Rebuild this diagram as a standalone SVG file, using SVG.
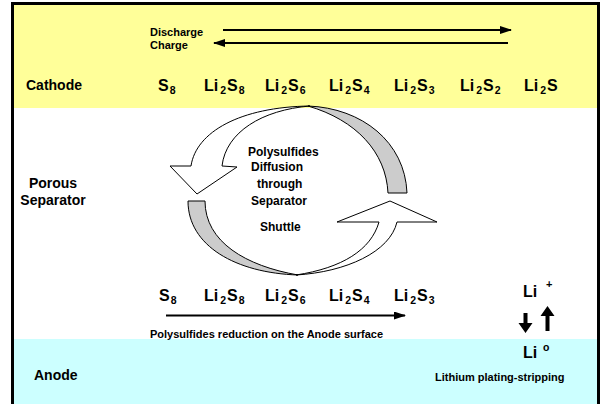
<svg xmlns="http://www.w3.org/2000/svg" width="600" height="404" viewBox="0 0 600 404">
<style>
text{font-family:"Liberation Sans",Arial,sans-serif;font-weight:bold;fill:#000}
.lbl{font-size:14px}
.sm{font-size:11px}
.mid{font-size:12px}
.f{font-size:16px}
.sub{font-size:10.5px}
.ln{stroke:#000;stroke-width:2;fill:none}
.gray{fill:#cccccc;stroke:#000;stroke-width:1}
.wht{fill:#fff;stroke:#000;stroke-width:1}
</style>
<defs>
<marker id="ah" viewBox="0 0 12 8" refX="11" refY="4" markerWidth="12" markerHeight="8" markerUnits="userSpaceOnUse" orient="auto">
<path d="M0,0 L12,4 L0,8 Z" fill="#000"/>
</marker>
</defs>
<g id="background">
<rect x="12" y="3" width="587" height="105" fill="#ffff99"/>
<rect x="12" y="108" width="587" height="231" fill="#fff"/>
<rect x="12" y="339" width="587" height="70" fill="#ccffff"/>
<rect x="12.5" y="3.5" width="586" height="410" fill="none" stroke="#000" stroke-width="3"/>
</g>
<g id="cathode">
<text class="lbl" x="26" y="90">Cathode</text>
<text class="sm" x="150" y="36">Discharge</text>
<text class="sm" x="150" y="49">Charge</text>
<text class="f" x="158" y="91">S<tspan class="sub" dx="1" dy="3">8</tspan></text>
<text class="f" x="204" y="91">Li<tspan class="sub" dx="2" dy="3">2</tspan><tspan dx="1" dy="-3">S</tspan><tspan class="sub" dx="1" dy="3">8</tspan></text>
<text class="f" x="265" y="91">Li<tspan class="sub" dx="2" dy="3">2</tspan><tspan dx="1" dy="-3">S</tspan><tspan class="sub" dx="1" dy="3">6</tspan></text>
<text class="f" x="329" y="91">Li<tspan class="sub" dx="2" dy="3">2</tspan><tspan dx="1" dy="-3">S</tspan><tspan class="sub" dx="1" dy="3">4</tspan></text>
<text class="f" x="394" y="91">Li<tspan class="sub" dx="2" dy="3">2</tspan><tspan dx="1" dy="-3">S</tspan><tspan class="sub" dx="1" dy="3">3</tspan></text>
<text class="f" x="460" y="91">Li<tspan class="sub" dx="2" dy="3">2</tspan><tspan dx="1" dy="-3">S</tspan><tspan class="sub" dx="1" dy="3">2</tspan></text>
<text class="f" x="524" y="91">Li<tspan class="sub" dx="2" dy="3">2</tspan><tspan dx="1" dy="-3">S</tspan></text>
</g>
<g id="separator">
<text class="lbl" x="53" y="188" text-anchor="middle">Porous</text>
<text class="lbl" x="53" y="205" text-anchor="middle">Separator</text>
<text class="mid" x="248" y="156">Polysulfides</text>
<text class="mid" x="251" y="171">Diffusion</text>
<text class="mid" x="257" y="188">through</text>
<text class="mid" x="251" y="205">Separator</text>
<text class="mid" x="260" y="231">Shuttle</text>
</g>
<g id="shuttle-top">
<path class="gray" d="M308,106 C362,108 405,142 407,193 L388,193 C386,152 356,120 308,106 Z"/>
<path class="wht" d="M191,166 C196,132 240,107 310,106 C262,110 226,132 222,166 L237,167 L197,194 L170,166 Z"/>
</g>
<g id="shuttle-bottom">
<path class="gray" d="M188,201 C188,246 236,273 298,275 C246,266 205,242 205,201 Z"/>
<path class="wht" d="M296,275 C346,272 390,252 397,222 L437,222 L390,201 L337,222 L379,222 C371,250 342,268 296,275 Z"/>
</g>
<g id="anode">
<text class="f" x="159" y="301">S<tspan class="sub" dx="1" dy="3">8</tspan></text>
<text class="f" x="204" y="301">Li<tspan class="sub" dx="2" dy="3">2</tspan><tspan dx="1" dy="-3">S</tspan><tspan class="sub" dx="1" dy="3">8</tspan></text>
<text class="f" x="265" y="301">Li<tspan class="sub" dx="2" dy="3">2</tspan><tspan dx="1" dy="-3">S</tspan><tspan class="sub" dx="1" dy="3">6</tspan></text>
<text class="f" x="329" y="301">Li<tspan class="sub" dx="2" dy="3">2</tspan><tspan dx="1" dy="-3">S</tspan><tspan class="sub" dx="1" dy="3">4</tspan></text>
<text class="f" x="394" y="301">Li<tspan class="sub" dx="2" dy="3">2</tspan><tspan dx="1" dy="-3">S</tspan><tspan class="sub" dx="1" dy="3">3</tspan></text>
<text class="sm" x="150" y="338">Polysulfides reduction on the Anode surface</text>
<text class="lbl" x="34" y="380">Anode</text>
<text class="sm" x="435" y="381">Lithium plating-stripping</text>
<text class="f" x="523" y="297">Li</text>
<text class="sm" x="546" y="288">+</text>
<text class="f" x="523" y="358">Li</text>
<text class="sub" x="543" y="351">o</text>
</g>
<g id="connectors">
<line class="ln" x1="223" y1="30" x2="511" y2="30" marker-end="url(#ah)"/>
<line class="ln" x1="508" y1="43" x2="214" y2="43" marker-end="url(#ah)"/>
<line class="ln" x1="166" y1="315.5" x2="405" y2="315.5" marker-end="url(#ah)"/>
<path d="M523.5,313 h4 v10 h5 l-7,10 l-7,-10 h5 Z" fill="#000"/>
<path d="M545.5,331 h4 v-15 h5 l-7,-10 l-7,10 h5 Z" fill="#000"/>
</g>
</svg>
